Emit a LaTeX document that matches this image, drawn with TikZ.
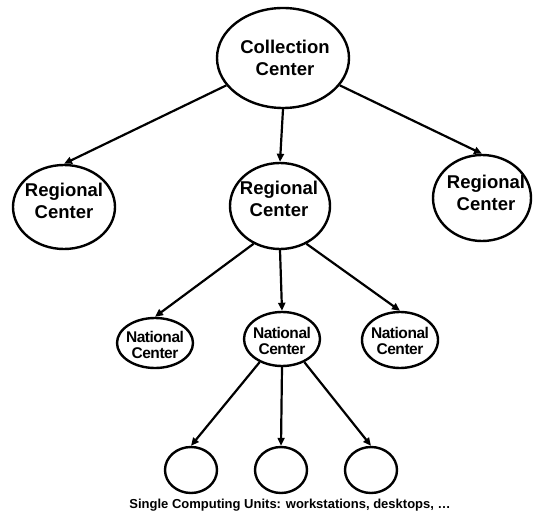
\documentclass[tikz,border=0pt]{standalone}
\usepackage{fontspec}
\setmainfont{Liberation Sans}
\usetikzlibrary{shapes.geometric,arrows.meta}
\begin{document}
\begin{tikzpicture}[x=1pt,y=-1pt,
  oval/.style={ellipse,draw=black,line width=2.4pt,inner sep=0pt},
  bigtext/.style={align=center,font=\bfseries\fontsize{18.5}{22}\selectfont,inner sep=0pt},
  smalltext/.style={align=center,font=\bfseries\addfontfeature{LetterSpace=-3}\fontsize{15.5}{16.5}\selectfont,inner sep=0pt},
  link/.style={line width=2.2pt,-{Triangle[length=8pt,width=7pt]}}]
\useasboundingbox (0,0) rectangle (535,518);

% top level
\node[oval,minimum width=132pt,minimum height=100pt] (cc) at (283,58) {};
\node[bigtext] (cct) at (285,58) {Collection\\Center};

% regional centres
\node[oval,minimum width=102pt,minimum height=84pt] (rc1) at (64,207) {};
\node[bigtext] (rc1t) at (64,201) {Regional\\Center};
\node[oval,minimum width=100pt,minimum height=86pt] (rc2) at (280,206) {};
\node[bigtext] (rc2t) at (279,199) {Regional\\Center};
\node[oval,minimum width=98pt,minimum height=86pt] (rc3) at (482,198) {};
\node[bigtext] (rc3t) at (486,193) {Regional\\Center};

% national centres
\node[oval,minimum width=76pt,minimum height=50pt] (nc1) at (155,343) {};
\node[smalltext] (nc1t) at (155,345) {National\\Center};
\node[oval,minimum width=76pt,minimum height=54pt] (nc2) at (282,339) {};
\node[smalltext] (nc2t) at (282,341) {National\\Center};
\node[oval,minimum width=76pt,minimum height=56pt] (nc3) at (400,340) {};
\node[smalltext] (nc3t) at (400,341) {National\\Center};

% computing units
\node[oval,minimum width=52pt,minimum height=46pt] (u1) at (191,470) {};
\node[oval,minimum width=52pt,minimum height=46pt] (u2) at (281,470) {};
\node[oval,minimum width=52pt,minimum height=46pt] (u3) at (371,470) {};
\node[font=\bfseries\fontsize{13}{15}\selectfont,inner sep=0pt] (units) at (290,505)
  {Single Computing Units: workstations, desktops, …};

% connectors
\draw[link] (cc) -- (rc1.north);
\draw[link] (cc.south) -- (rc2.north);
\draw[link] (cc) -- (rc3.north);
\draw[link] (rc2.235) -- (nc1.north);
\draw[link] (rc2.south) -- (nc2.north);
\draw[link] (rc2.305) -- (nc3.north);
\draw[link] (nc2.226) -- (u1.north);
\draw[link] (nc2.south) -- (u2.north);
\draw[link] (nc2.314) -- (u3.north);
\end{tikzpicture}
\end{document}
